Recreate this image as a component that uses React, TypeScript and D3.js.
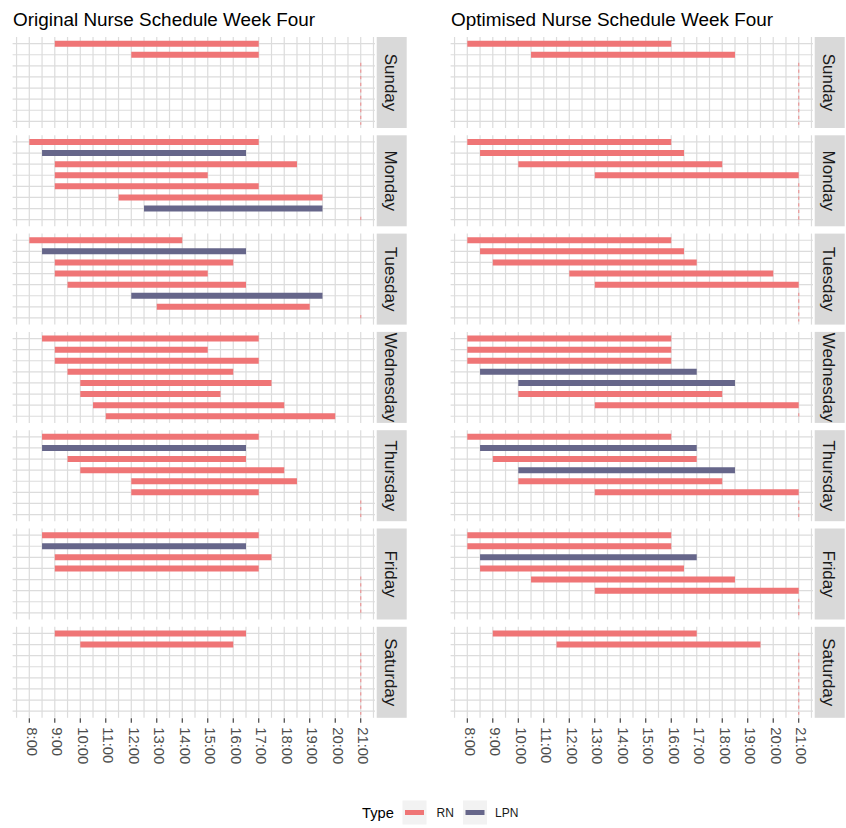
import React from "react";
import * as d3 from "d3";

const days = ["Sunday", "Monday", "Tuesday", "Wednesday", "Thursday", "Friday", "Saturday"];
const types = ["RN", "LPN"];
const typeColors = ["#EF7576", "#66668A"];
const hourTicks = [8, 9, 10, 11, 12, 13, 14, 15, 16, 17, 18, 19, 20, 21];
const hourLabels = ["8:00", "9:00", "10:00", "11:00", "12:00", "13:00", "14:00", "15:00", "16:00", "17:00", "18:00", "19:00", "20:00", "21:00"];
const slots = [1, 2, 3, 4, 5, 6, 7, 8];

// [day, start hour, end hour, type]
const originalShifts: [string, number, number, string][] = [
  ["Sunday", 9, 17, "RN"], ["Sunday", 12, 17, "RN"],
  ["Monday", 8, 17, "RN"], ["Monday", 8.5, 16.5, "LPN"], ["Monday", 9, 18.5, "RN"], ["Monday", 9, 15, "RN"],
  ["Monday", 9, 17, "RN"], ["Monday", 11.5, 19.5, "RN"], ["Monday", 12.5, 19.5, "LPN"],
  ["Tuesday", 8, 14, "RN"], ["Tuesday", 8.5, 16.5, "LPN"], ["Tuesday", 9, 16, "RN"], ["Tuesday", 9, 15, "RN"],
  ["Tuesday", 9.5, 16.5, "RN"], ["Tuesday", 12, 19.5, "LPN"], ["Tuesday", 13, 19, "RN"],
  ["Wednesday", 8.5, 17, "RN"], ["Wednesday", 9, 15, "RN"], ["Wednesday", 9, 17, "RN"], ["Wednesday", 9.5, 16, "RN"],
  ["Wednesday", 10, 17.5, "RN"], ["Wednesday", 10, 15.5, "RN"], ["Wednesday", 10.5, 18, "RN"], ["Wednesday", 11, 20, "RN"],
  ["Thursday", 8.5, 17, "RN"], ["Thursday", 8.5, 16.5, "LPN"], ["Thursday", 9.5, 16.5, "RN"], ["Thursday", 10, 18, "RN"],
  ["Thursday", 12, 18.5, "RN"], ["Thursday", 12, 17, "RN"],
  ["Friday", 8.5, 17, "RN"], ["Friday", 8.5, 16.5, "LPN"], ["Friday", 9, 17.5, "RN"], ["Friday", 9, 17, "RN"],
  ["Saturday", 9, 16.5, "RN"], ["Saturday", 10, 16, "RN"],
];

const optimisedShifts: [string, number, number, string][] = [
  ["Sunday", 8, 16, "RN"], ["Sunday", 10.5, 18.5, "RN"],
  ["Monday", 8, 16, "RN"], ["Monday", 8.5, 16.5, "RN"], ["Monday", 10, 18, "RN"], ["Monday", 13, 21, "RN"],
  ["Tuesday", 8, 16, "RN"], ["Tuesday", 8.5, 16.5, "RN"], ["Tuesday", 9, 17, "RN"], ["Tuesday", 12, 20, "RN"],
  ["Tuesday", 13, 21, "RN"],
  ["Wednesday", 8, 16, "RN"], ["Wednesday", 8, 16, "RN"], ["Wednesday", 8, 16, "RN"], ["Wednesday", 8.5, 17, "LPN"],
  ["Wednesday", 10, 18.5, "LPN"], ["Wednesday", 10, 18, "RN"], ["Wednesday", 13, 21, "RN"],
  ["Thursday", 8, 16, "RN"], ["Thursday", 8.5, 17, "LPN"], ["Thursday", 9, 17, "RN"], ["Thursday", 10, 18.5, "LPN"],
  ["Thursday", 10, 18, "RN"], ["Thursday", 13, 21, "RN"],
  ["Friday", 8, 16, "RN"], ["Friday", 8, 16, "RN"], ["Friday", 8.5, 17, "LPN"], ["Friday", 8.5, 16.5, "RN"],
  ["Friday", 10.5, 18.5, "RN"], ["Friday", 13, 21, "RN"],
  ["Saturday", 9, 17, "RN"], ["Saturday", 11.5, 19.5, "RN"],
];

const FONT = "'Liberation Sans', Arial, Helvetica, sans-serif";
const PANEL_TOP = 37;
const PANEL_H = 91;
const PANEL_GAP = 7.3;
const PANEL_W = 362.4;
const STRIP_GAP = 1.7;
const STRIP_W = 30;
const GRID = "#DCDCDC";

const color = d3.scaleOrdinal<string, string>().domain(types).range(typeColors);

function Schedule({ left, title, shifts, id }: { left: number; title: string; shifts: [string, number, number, string][]; id: string }) {
  const x = d3.scaleLinear().domain([7.345, 21.56]).range([left, left + PANEL_W]);
  const halfHours = d3.range(7.5, 21.51, 0.5);
  const stripX = left + PANEL_W + STRIP_GAP;
  const bottom = PANEL_TOP + days.length * PANEL_H + (days.length - 1) * PANEL_GAP;
  return (
    <g>
      <text x={left + 0.5} y={26} fontSize={18.9} fill="#000" fontFamily={FONT}>{title}</text>
      {days.map((day, di) => {
        const top = PANEL_TOP + di * (PANEL_H + PANEL_GAP);
        const y = d3.scalePoint<number>().domain(slots).range([top, top + PANEL_H]).padding(0.6);
        const dayShifts = shifts.filter((s) => s[0] === day);
        const n = dayShifts.length;
        const clipId = `${id}-strip-${di}`;
        return (
          <g key={day}>
            {slots.map((s) => (
              <line key={"h" + s} x1={left} x2={left + PANEL_W} y1={y(s)} y2={y(s)} stroke={GRID} strokeWidth={1.2} />
            ))}
            {halfHours.map((h) => (
              <line key={"v" + h} x1={x(h)} x2={x(h)} y1={top} y2={top + PANEL_H} stroke={GRID} strokeWidth={1.2} />
            ))}
            {n < slots.length && (
              <line
                x1={x(21)}
                x2={x(21)}
                y1={(y(n + 1) as number) - 3}
                y2={(y(slots.length) as number) + 3.5}
                stroke="#F07F80"
                strokeOpacity={0.7}
                strokeWidth={1.3}
                strokeDasharray="3.3,3.3"
              />
            )}
            {dayShifts.map((s, i) => (
              <line
                key={"b" + i}
                x1={x(s[1])}
                x2={x(s[2])}
                y1={y(slots[i])}
                y2={y(slots[i])}
                stroke={color(s[3])}
                strokeWidth={6}
              />
            ))}
            <clipPath id={clipId}>
              <rect x={stripX} y={top} width={STRIP_W} height={PANEL_H} />
            </clipPath>
            <rect x={stripX} y={top} width={STRIP_W} height={PANEL_H} fill="#D9D9D9" />
            <g clipPath={`url(#${clipId})`}>
              <text
                transform={`translate(${stripX + STRIP_W / 2 - 1},${top + PANEL_H / 2}) rotate(90)`}
                textAnchor="middle"
                dominantBaseline="central"
                fontSize={17}
                fill="#1A1A1A"
                fontFamily={FONT}
              >
                {day}
              </text>
            </g>
          </g>
        );
      })}
      {hourTicks.map((h, i) => (
        <g key={"t" + h}>
          <line x1={x(h)} x2={x(h)} y1={bottom + 0.5} y2={bottom + 5} stroke="#333333" strokeWidth={1.1} />
          <text
            transform={`translate(${x(h) + 2.3},${bottom + 9.5}) rotate(90)`}
            textAnchor="start"
            dominantBaseline="central"
            fontSize={14.8}
            fill="#4D4D4D"
            fontFamily={FONT}
          >
            {hourLabels[i]}
          </text>
        </g>
      ))}
    </g>
  );
}

function Legend() {
  const keyX = [402.5, 463];
  const labelX = [436.5, 495];
  return (
    <g fontFamily={FONT}>
      <text x={362} y={818} fontSize={14.7} fill="#000">Type</text>
      {types.map((t, i) => (
        <g key={t}>
          <rect x={keyX[i]} y={800.5} width={24} height={24} fill="#F2F2F2" />
          <line x1={keyX[i] + 2.5} x2={keyX[i] + 21.5} y1={812.5} y2={812.5} stroke={color(t)} strokeWidth={5} />
          <text x={labelX[i]} y={817} fontSize={12} fill="#1A1A1A">{t}</text>
        </g>
      ))}
    </g>
  );
}

export default function App() {
  return (
    <svg width={846} height={828} style={{ position: "absolute", left: 0, top: 0, background: "#fff" }}>
      <rect width={846} height={828} fill="#fff" />
      <Schedule left={12.6} title="Original Nurse Schedule Week Four" shifts={originalShifts} id="orig" />
      <Schedule left={450.6} title="Optimised Nurse Schedule Week Four" shifts={optimisedShifts} id="opt" />
      <Legend />
    </svg>
  );
}
